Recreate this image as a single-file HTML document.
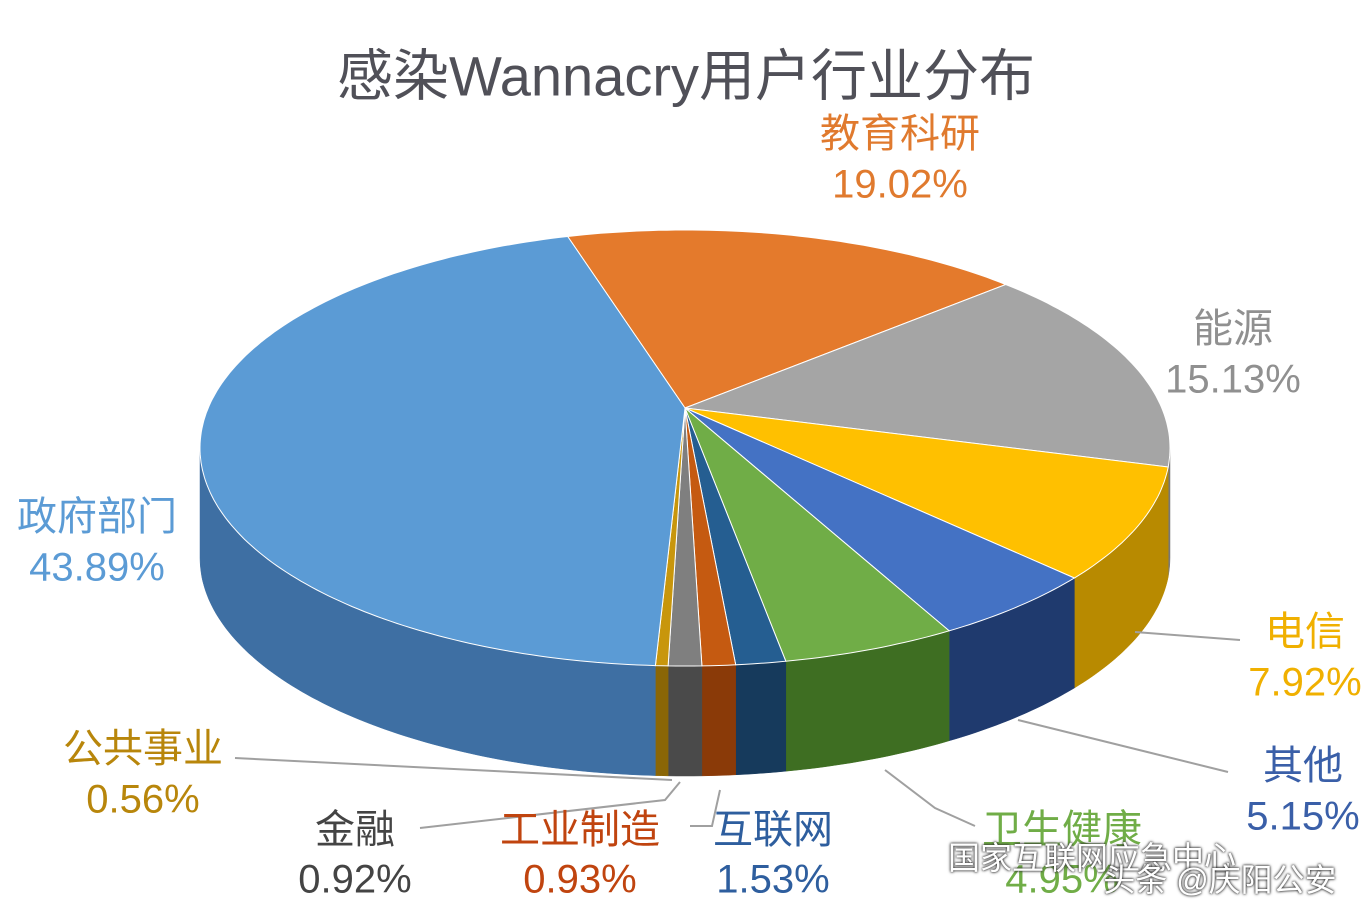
<!DOCTYPE html>
<html><head><meta charset="utf-8">
<style>
html,body{margin:0;padding:0;background:#fff;}
body{width:1372px;height:918px;overflow:hidden;position:relative;font-family:"Liberation Sans","Noto Sans CJK SC",sans-serif;}
.t{position:absolute;transform:translate(-50%,-50%);white-space:nowrap;font-size:40px;}
</style></head><body>
<svg id="s" width="1372" height="918" style="position:absolute;left:0;top:0"></svg>
<div class="t" style="left:686px;top:72px;font-size:56px;color:#505058">感染Wannacry用户行业分布</div>
<div class="t" style="left:900px;top:130px;color:#E07A2E">教育科研</div>
<div class="t" style="left:900px;top:185px;color:#E07A2E">19.02%</div>
<div class="t" style="left:1233px;top:325px;color:#909090">能源</div>
<div class="t" style="left:1233px;top:380px;color:#909090">15.13%</div>
<div class="t" style="left:97px;top:513px;color:#5B9BD5">政府部门</div>
<div class="t" style="left:97px;top:568px;color:#5B9BD5">43.89%</div>
<div class="t" style="left:1305px;top:628px;color:#F0B000">电信</div>
<div class="t" style="left:1305px;top:683px;color:#F0B000">7.92%</div>
<div class="t" style="left:1303px;top:762px;color:#3A5FA8">其他</div>
<div class="t" style="left:1303px;top:817px;color:#3A5FA8">5.15%</div>
<div class="t" style="left:1062px;top:826px;color:#70AD47">卫生健康</div>
<div class="t" style="left:1062px;top:880px;color:#70AD47">4.95%</div>
<div class="t" style="left:773px;top:826px;color:#2E5E9E">互联网</div>
<div class="t" style="left:773px;top:880px;color:#2E5E9E">1.53%</div>
<div class="t" style="left:580px;top:826px;color:#C0440F">工业制造</div>
<div class="t" style="left:580px;top:880px;color:#C0440F">0.93%</div>
<div class="t" style="left:355px;top:826px;color:#444">金融</div>
<div class="t" style="left:355px;top:880px;color:#444">0.92%</div>
<div class="t" style="left:143px;top:745px;color:#B8860B">公共事业</div>
<div class="t" style="left:143px;top:800px;color:#B8860B">0.56%</div>
<div class="t" style="left:1092px;top:856px;font-size:32px;color:#fff;text-shadow:0 0 3px #333,0 0 2px #333">国家互联网应急中心</div>
<div class="t" style="left:1220px;top:878px;font-size:32px;color:#fff;text-shadow:0 0 3px #333,0 0 2px #333">头条 @庆阳公安</div>
<script>
var s=document.getElementById('s');
var cx=685,cy=448,rx=485,ry=218,ax=685,ay=408,H=110;
function P(t,d){t=t*Math.PI/180;return [cx+rx*Math.cos(t),cy+ry*Math.sin(t)+(d||0)];}
var sl=[[-104,-48.6,'#E47A2C','#A8561C'],[-48.6,5,'#A5A5A5','#777'],[5,36.6,'#FFC000','#B88A00'],[36.6,57,'#4472C4','#1F3A6E'],[57,78,'#70AD47','#3E6E22'],[78,84,'#255E91','#163A5C'],[84,88,'#C55A11','#8A3A08'],[88,92,'#7F7F7F','#4A4A4A'],[92,93.5,'#C8960C','#8A6606'],[93.5,256,'#5B9BD5','#3E6FA3']];
var h='';
function arc(a,b,d){var r='',n=Math.max(2,Math.ceil(Math.abs(b-a)/1));for(var i=0;i<=n;i++){var p=P(a+(b-a)*i/n,d);r+=(i?'L':'M')+p[0].toFixed(1)+','+p[1].toFixed(1);}return r;}
sl.forEach(function(x){var a=Math.max(x[0],0),b=Math.min(x[1],180);if(b>a){var top=arc(a,b,0);var bot=arc(b,a,H).replace('M','L');h+='<path d="'+top+bot+'Z" fill="'+x[3]+'" stroke="'+x[3]+'" stroke-width="0.5"/>';}});
sl.forEach(function(x){h+='<path d="M'+ax+','+ay+arc(x[0],x[1],0).replace('M','L')+'Z" fill="'+x[2]+'" stroke="#fff" stroke-width="1"/>';});
var L=[[[1135,632],[1240,640]],[[1018,720],[1228,772]],[[885,770],[935,808],[975,826]],[[720,790],[712,826],[690,826]],[[680,782],[665,800],[420,828]],[[672,780],[235,758]]];
L.forEach(function(l){h+='<polyline points="'+l.map(function(p){return p.join(',')}).join(' ')+'" fill="none" stroke="#A0A0A0" stroke-width="2"/>';});
s.innerHTML=h;
</script>
</body></html>
